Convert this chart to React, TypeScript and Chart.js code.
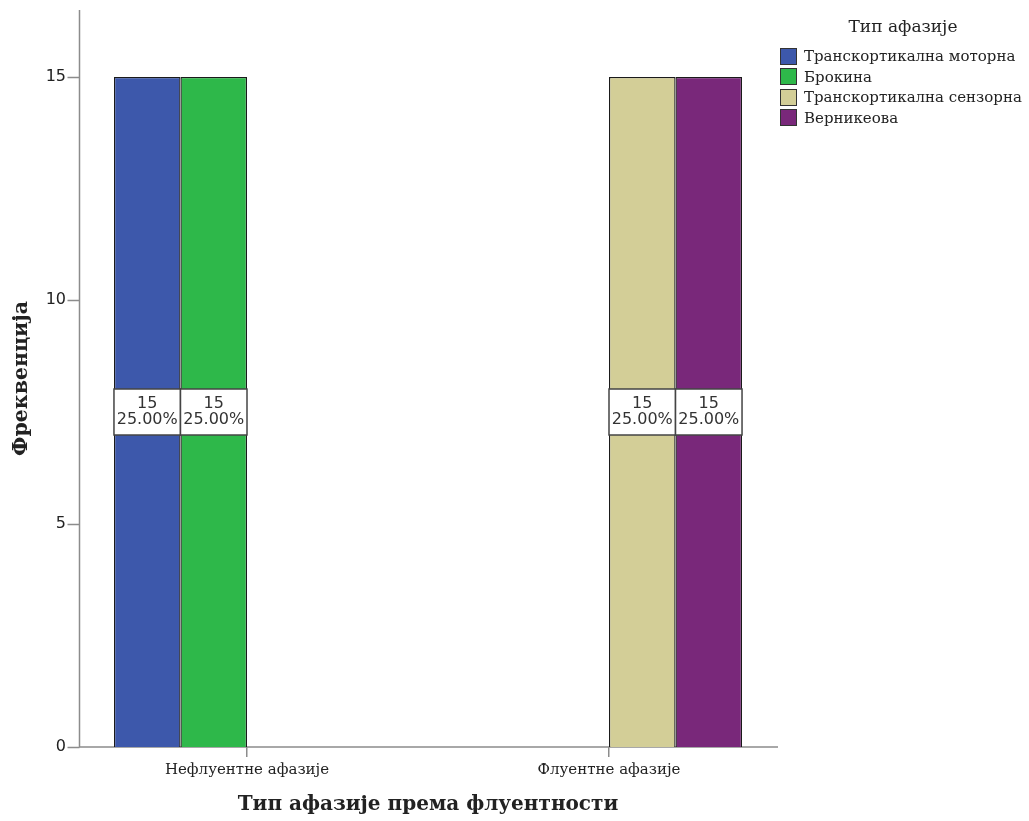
import React, { useEffect, useRef } from 'react';
import { Chart, registerables } from 'chart.js';

Chart.register(...registerables);

const categories = ['Нефлуентне афазије', 'Флуентне афазије'];
const seriesNames = ['Транскортикална моторна', 'Брокина', 'Транскортикална сензорна', 'Верникеова'];
const seriesColors = ['#3D58AB', '#2EB84A', '#D3CE97', '#79287A'];
const motorValues = [15, null];
const brocaValues = [15, null];
const sensoryValues = [null, 15];
const wernickeValues = [null, 15];
const yTicks = [0, 5, 10, 15];
const yMax = 16.5;

const serif = '"DejaVu Serif", "Liberation Serif", serif';
const sans = '"DejaVu Sans", "Liberation Sans", sans-serif';

export default function App() {
  const ref = useRef<HTMLCanvasElement>(null);

  useEffect(() => {
    if (!ref.current) return;
    const values = [motorValues, brocaValues, sensoryValues, wernickeValues];
    const total = values.flat().reduce((a: number, v) => a + (v ?? 0), 0);

    const axisPlugin = {
      id: 'spssAxes',
      beforeDatasetsDraw(chart: any) {
        const { ctx, chartArea } = chart;
        const ys = chart.scales.y;
        const x0 = chartArea.left + 13.5;
        const x1 = chartArea.right - 12;
        ctx.save();
        ctx.strokeStyle = '#8c8c8c';
        ctx.lineWidth = 1.5;
        ctx.beginPath();
        ctx.moveTo(x0, chartArea.top);
        ctx.lineTo(x0, chartArea.bottom);
        ctx.moveTo(x0, chartArea.bottom);
        ctx.lineTo(x1, chartArea.bottom);
        ys.ticks.forEach((t: any) => {
          const py = Math.round(ys.getPixelForValue(t.value)) + 0.5;
          ctx.moveTo(x0 - 12, py);
          ctx.lineTo(x0, py);
        });
        ctx.stroke();
        ctx.restore();
      },
    };

    const labelPlugin = {
      id: 'boxLabels',
      afterDatasetsDraw(chart: any) {
        const { ctx } = chart;
        chart.data.datasets.forEach((ds: any, di: number) => {
          const meta = chart.getDatasetMeta(di);
          meta.data.forEach((el: any, i: number) => {
            const v = ds.data[i];
            if (v == null) return;
            const { x, y, base, width } = el.getProps(['x', 'y', 'base', 'width'], true);
            const cy = (y + base) / 2;
            const left = x - width / 2;
            ctx.save();
            ctx.fillStyle = '#ffffff';
            ctx.fillRect(left, cy - 23, width, 46);
            ctx.strokeStyle = '#444';
            ctx.lineWidth = 1.5;
            ctx.strokeRect(left, cy - 23, width, 46);
            ctx.fillStyle = '#333';
            ctx.font = `16px ${sans}`;
            ctx.textAlign = 'center';
            ctx.textBaseline = 'middle';
            ctx.fillText(String(v), x, cy - 8);
            ctx.fillText(((v / total) * 100).toFixed(2) + '%', x, cy + 8);
            ctx.restore();
          });
        });
      },
    };

    const chart = new Chart(ref.current, {
      type: 'bar',
      data: {
        labels: categories,
        datasets: values.map((vals, i) => ({
          label: seriesNames[i],
          data: vals,
          backgroundColor: seriesColors[i],
          borderColor: '#1a1a1a',
          borderWidth: 1.3,
          categoryPercentage: 0.735,
          barPercentage: 1,
        })),
      },
      options: {
        animation: false,
        responsive: true,
        maintainAspectRatio: false,
        layout: { padding: { top: 10, right: 239, left: 0, bottom: 0 } },
        plugins: { legend: { display: false }, tooltip: { enabled: false } },
        scales: {
          x: {
            afterFit: (s: any) => { s.height = 74; },
            border: { display: false },
            grid: {
              display: true,
              drawOnChartArea: false,
              drawTicks: true,
              tickLength: 10,
              offset: false,
              color: '#8c8c8c',
              lineWidth: 1.5,
            },
            ticks: { color: '#222', font: { family: serif, size: 15 }, padding: 4, maxRotation: 0 },
            title: {
              display: true,
              text: 'Тип афазије према флуентности',
              color: '#222',
              font: { family: serif, size: 20, weight: 'bold' },
              padding: { top: 0, bottom: 4 },
            },
          },
          y: {
            min: 0,
            max: yMax,
            afterFit: (s: any) => { s.width = 66; },
            afterBuildTicks: (s: any) => { s.ticks = yTicks.map((v) => ({ value: v })); },
            border: { display: false },
            grid: { display: false, drawTicks: false },
            ticks: { color: '#222', font: { family: sans, size: 16 }, padding: 0 },
            title: {
              display: true,
              text: 'Фреквенција',
              color: '#222',
              font: { family: serif, size: 20.5, weight: 'bold' },
              padding: { top: 9, bottom: 0 },
            },
          },
        },
      },
      plugins: [axisPlugin, labelPlugin],
    });
    return () => chart.destroy();
  }, []);

  return (
    <div style={{ position: 'absolute', left: 0, top: 0, width: 1029, height: 821, background: '#fff' }}>
      <canvas ref={ref} />
      <div style={{ position: 'absolute', left: 780, top: 14, width: 246, fontFamily: serif, color: '#222' }}>
        <div style={{ textAlign: 'center', fontSize: 17, lineHeight: '24px', marginBottom: 8 }}>Тип афазије</div>
        {seriesNames.map((name, i) => (
          <div key={name} style={{ display: 'flex', alignItems: 'center', height: 20.5, fontSize: 15, whiteSpace: 'nowrap' }}>
            <span style={{ display: 'inline-block', width: 15, height: 15, background: seriesColors[i], border: '1px solid #333', marginRight: 7, flex: 'none' }} />
            <span>{name}</span>
          </div>
        ))}
      </div>
    </div>
  );
}
